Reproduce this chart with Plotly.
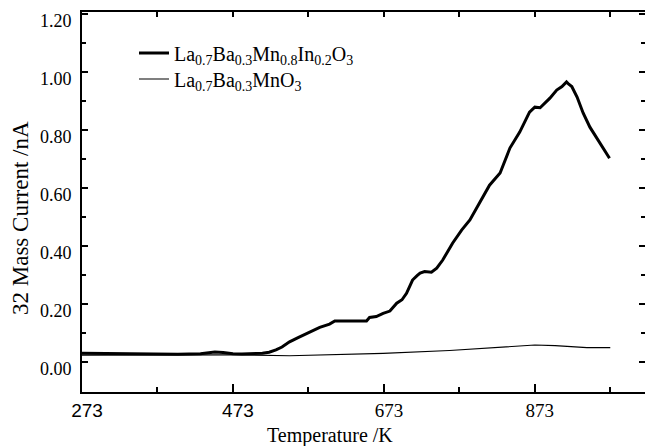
import plotly.graph_objects as go

# ---- data ----
temp_doped = [273, 300, 339, 370, 400, 430, 449, 460, 473, 485, 500, 512, 521, 530, 538,
              548, 560, 575, 588, 601, 608, 630, 650, 654, 663, 672, 681, 690, 697, 703,
              711, 717, 721, 727, 736, 743, 751, 764, 776, 787, 800, 813, 827, 840, 853,
              866, 873, 880, 893, 902, 909, 915, 918, 922, 929, 937, 946, 955, 963, 972]
curr_doped = [0.031, 0.030, 0.028, 0.027, 0.027, 0.029, 0.035, 0.033, 0.029, 0.028, 0.029, 0.031, 0.034, 0.042, 0.052,
              0.070, 0.085, 0.104, 0.120, 0.131, 0.142, 0.142, 0.142, 0.154, 0.157, 0.168, 0.176, 0.203, 0.215, 0.237,
              0.283, 0.298, 0.307, 0.312, 0.310, 0.324, 0.352, 0.410, 0.455, 0.490, 0.548, 0.610, 0.652, 0.738, 0.793,
              0.862, 0.879, 0.877, 0.910, 0.938, 0.950, 0.966, 0.958, 0.950, 0.914, 0.859, 0.810, 0.772, 0.741, 0.703]

temp_pure = [273, 340, 400, 473, 548, 600, 672, 760, 820, 873, 900, 942, 973]
curr_pure = [0.024, 0.024, 0.024, 0.025, 0.022, 0.026, 0.030, 0.040, 0.050, 0.059, 0.057, 0.050, 0.050]

x_tick_vals = [273, 473, 673, 873]
x_tick_text = ['<span style="font-family:Liberation Sans">273</span>',
               '<span style="font-family:Liberation Sans">473</span>',
               '673', '873']
y_tick_vals = [0.0, 0.2, 0.4, 0.6, 0.8, 1.0, 1.2]

X_RANGE = [273, 1019]
Y_RANGE = [-0.103, 1.207]
SERIF = "Liberation Serif"

fig = go.Figure()
fig.add_trace(go.Scatter(x=temp_doped, y=curr_doped, mode="lines",
                         line=dict(color="black", width=3), legend="legend",
                         name="La<sub>0.7</sub>Ba<sub>0.3</sub>Mn<sub>0.8</sub>In<sub>0.2</sub>O<sub>3</sub>"))
fig.add_trace(go.Scatter(x=temp_pure, y=curr_pure, mode="lines",
                         line=dict(color="black", width=1.2), legend="legend2",
                         name="La<sub>0.7</sub>Ba<sub>0.3</sub>MnO<sub>3</sub>"))
# empty helper traces so the mirrored top / right axes get drawn
fig.add_trace(go.Scatter(x=[], y=[], xaxis="x2", yaxis="y", showlegend=False, hoverinfo="skip"))
fig.add_trace(go.Scatter(x=[], y=[], xaxis="x", yaxis="y2", showlegend=False, hoverinfo="skip"))

legend_style = dict(xanchor="left", yanchor="middle", bgcolor="rgba(0,0,0,0)", borderwidth=0,
                    font=dict(family=SERIF, size=20, color="black"))

fig.update_layout(
    width=647, height=446,
    margin=dict(l=82, r=2, t=12, b=54),
    paper_bgcolor="white", plot_bgcolor="white",
    font=dict(family=SERIF, size=18, color="black"),
    showlegend=True,
    legend=dict(x=(134 - 82) / 563, y=(392 - 53) / 380, **legend_style),
    legend2=dict(x=(134 - 82) / 563, y=(392 - 79) / 380, **legend_style),
    xaxis=dict(range=X_RANGE, tickmode="array", tickvals=x_tick_vals, ticktext=x_tick_text,
               ticks="inside", ticklen=8, tickwidth=2, tickcolor="black", ticklabelshift=5,
               minor=dict(dtick=100, tick0=273, ticks="inside", ticklen=5, tickwidth=2, tickcolor="black"),
               showline=True, linewidth=2, linecolor="black", showgrid=False, zeroline=False,
               tickfont=dict(family=SERIF, size=19, color="black")),
    yaxis=dict(range=Y_RANGE, tickmode="array", tickvals=y_tick_vals, tickformat=".2f",
               ticks="inside", ticklen=6, tickwidth=2, tickcolor="black",
               ticklabelstandoff=5, ticklabelshift=7,
               minor=dict(dtick=0.1, tick0=0, ticks="inside", ticklen=4, tickwidth=2, tickcolor="black"),
               showline=True, linewidth=2, linecolor="black", showgrid=False, zeroline=False,
               tickfont=dict(family=SERIF, size=18, color="black")),
    xaxis2=dict(overlaying="x", side="top", anchor="y", range=X_RANGE,
                tickmode="linear", tick0=273, dtick=100, ticks="inside", ticklen=5, tickwidth=2,
                tickcolor="black", showticklabels=False, showline=True, linewidth=2,
                linecolor="black", showgrid=False, zeroline=False),
    yaxis2=dict(overlaying="y", side="right", anchor="x", range=Y_RANGE,
                tickmode="linear", tick0=0, dtick=0.2, ticks="inside", ticklen=6, tickwidth=2,
                tickcolor="black", showticklabels=False, showline=False, showgrid=False, zeroline=False,
                minor=dict(dtick=0.1, tick0=0, ticks="inside", ticklen=4, tickwidth=2, tickcolor="black")),
    annotations=[
        dict(text="Temperature /K", xref="paper", yref="paper", x=(330 - 82) / 563, y=-(436 - 392) / 380,
             xanchor="center", yanchor="middle", showarrow=False,
             font=dict(family=SERIF, size=20, color="black")),
        dict(text="32 Mass Current /nA", xref="paper", yref="paper", x=-(82 - 20) / 563, y=(392 - 218) / 380,
             xanchor="center", yanchor="middle", showarrow=False, textangle=-90,
             font=dict(family=SERIF, size=23, color="black")),
    ],
)

fig.write_html("out.html", config={"displayModeBar": False},
               post_script="document.body.style.margin='0';document.body.style.padding='0';")
